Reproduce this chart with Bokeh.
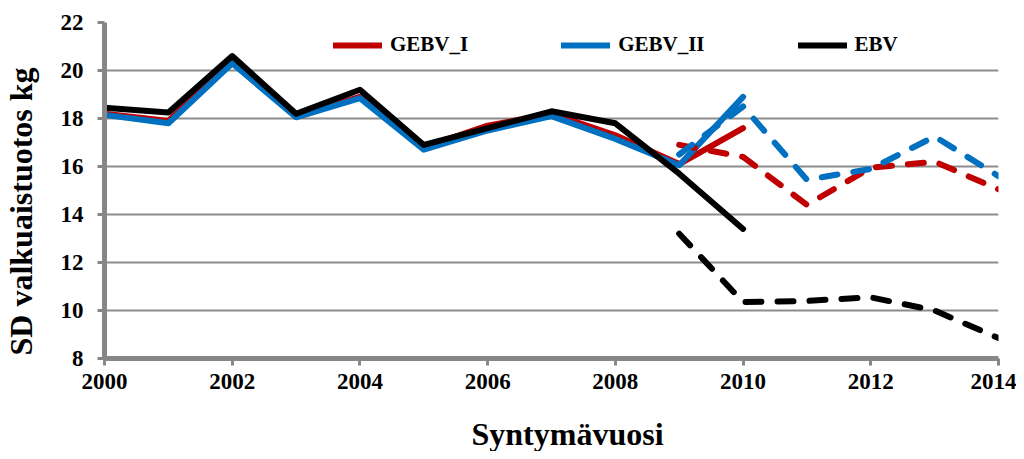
from bokeh.plotting import figure
from bokeh.models import Range1d, FixedTicker, Legend, LegendItem, Label
from bokeh.embed import file_html
from bokeh.resources import INLINE
import math

# ---- data ----
years_obs = [2000, 2001, 2002, 2003, 2004, 2005, 2006, 2007, 2008, 2009, 2010]
gebv1_obs = [18.2, 17.9, 20.4, 18.1, 18.9, 16.8, 17.7, 18.2, 17.3, 16.1, 17.6]
gebv2_obs = [18.15, 17.8, 20.3, 18.05, 18.85, 16.7, 17.5, 18.1, 17.15, 16.05, 18.9]
ebv_obs = [18.45, 18.25, 20.6, 18.2, 19.2, 16.9, 17.6, 18.3, 17.8, 15.7, 13.4]

years_pred = [2009, 2010, 2011, 2012, 2013, 2014]
gebv1_pred = [16.9, 16.4, 14.4, 15.95, 16.2, 15.05]
gebv2_pred = [16.5, 18.5, 15.45, 15.9, 17.25, 15.6]
ebv_pred = [13.2, 10.35, 10.4, 10.55, 10.0, 8.85]

series_names = ["GEBV_I", "GEBV_II", "EBV"]
series_colors = ["#C00000", "#0070C0", "#000000"]
x_ticks = [2000, 2002, 2004, 2006, 2008, 2010, 2012, 2014]
y_ticks = [8, 10, 12, 14, 16, 18, 20, 22]
x_title = "Syntymävuosi"
y_title = "SD valkuaistuotos kg"

FONT = "Liberation Serif"
GRAY = "#878787"

p = figure(width=1016, height=451, output_backend="svg", toolbar_location=None,
           x_range=Range1d(2000, 2014), y_range=Range1d(8, 22),
           min_border_left=104, min_border_right=18, min_border_top=22,
           min_border_bottom=93)
p.outline_line_color = None
p.background_fill_color = "white"
p.border_fill_color = "white"

# grid
p.xgrid.grid_line_color = None
p.ygrid.grid_line_color = "#8c8c8c"
p.ygrid.grid_line_width = 2
p.ygrid.ticker = FixedTicker(ticks=y_ticks)

# axes
for ax in (p.xaxis[0], p.yaxis[0]):
    ax.axis_line_color = GRAY
    ax.axis_line_width = 5
    ax.major_tick_line_color = GRAY
    ax.major_tick_line_width = 3
    ax.major_tick_out = 7
    ax.major_tick_in = 0
    ax.minor_tick_line_color = None
    ax.major_label_text_font = FONT
    ax.major_label_text_font_style = "bold"
    ax.major_label_text_font_size = "23px"
    ax.major_label_text_color = "black"
p.xaxis[0].ticker = FixedTicker(ticks=x_ticks)
p.yaxis[0].ticker = FixedTicker(ticks=y_ticks)
p.xaxis[0].major_label_standoff = 8
p.yaxis[0].major_label_standoff = 14

obs = [gebv1_obs, gebv2_obs, ebv_obs]
pred = [gebv1_pred, gebv2_pred, ebv_pred]

solid_renderers = []
for vals, col in zip(obs, series_colors):
    r = p.line(years_obs, vals, line_color=col, line_width=6,
               line_cap="round", line_join="round")
    solid_renderers.append(r)
for vals, col in zip(pred, series_colors):
    p.line(years_pred, vals, line_color=col, line_width=6, line_dash="16 16",
           line_cap="round", line_join="round")

legend = Legend(items=[LegendItem(label=n, renderers=[r])
                       for n, r in zip(series_names, solid_renderers)],
                orientation="horizontal", location=(229, 301))
legend.background_fill_alpha = 0
legend.border_line_color = None
legend.padding = 0
legend.margin = 0
legend.spacing = 93
legend.glyph_width = 49
legend.glyph_height = 20
legend.label_standoff = 8
legend.label_text_font = FONT
legend.label_text_font_style = "bold"
legend.label_text_font_size = "21px"
legend.label_text_color = "black"
p.add_layout(legend)

# axis titles placed in the side panels (not clipped to the frame)
xt = Label(x=463, y=-6, x_units="screen", y_units="screen", text=x_title,
           text_align="center", text_baseline="alphabetic",
           text_font=FONT, text_font_style="bold", text_font_size="32px",
           text_color="black")
yt = Label(x=-1, y=3, x_units="screen", y_units="screen", text=y_title,
           angle=math.pi / 2, text_align="left", text_baseline="alphabetic",
           text_font=FONT, text_font_style="bold", text_font_size="32px",
           text_color="black")
p.add_layout(xt, "below")
p.add_layout(yt, "left")

open("out.html", "w").write(file_html(p, INLINE))
